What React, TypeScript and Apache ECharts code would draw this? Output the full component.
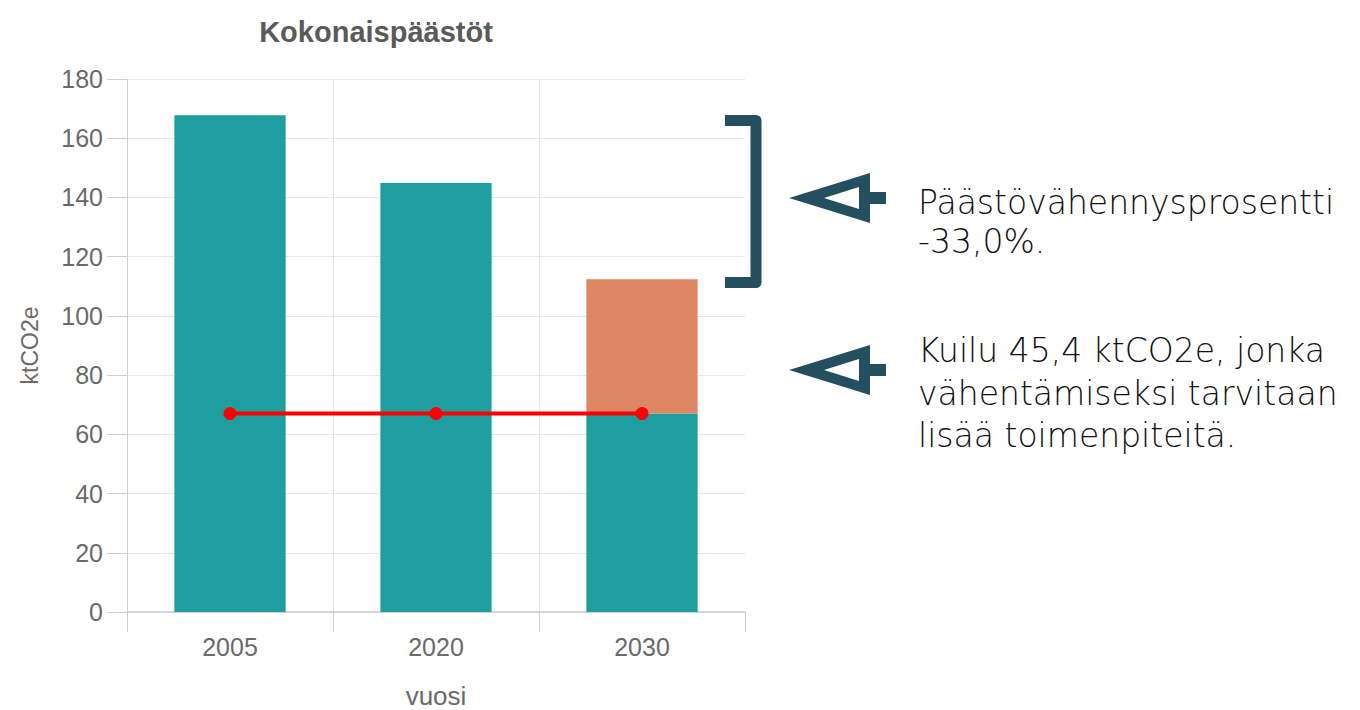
import React, { useEffect, useRef } from "react";
import * as echarts from "echarts";

const categories = ["2005", "2020", "2030"];
const baseValues = [167.8, 144.9, 67.0];
const gapValues = [0, 0, 45.4];
const targetValues = [67.0, 67.0, 67.0];
const yTicks = { min: 0, max: 180, interval: 20 };

const note1Lines = ["Päästövähennysprosentti", "-33,0%."];
const note2Lines = ["Kuilu 45,4 ktCO2e, jonka", "vähentämiseksi tarvitaan", "lisää toimenpiteitä."];

const TEAL = "#1f9e9f";
const ORANGE = "#de8664";
const DARK = "#234f5e";

export default function App() {
  const ref = useRef<HTMLDivElement>(null);
  useEffect(() => {
    const chart = echarts.init(ref.current!, null, { renderer: "svg" });
    const arrow = (cy: number) => [
      {
        type: "polygon",
        shape: { points: [[789, cy], [870, cy - 25], [870, cy + 25]] },
        style: { fill: DARK },
      },
      {
        type: "polygon",
        shape: { points: [[824, cy], [859, cy - 11], [859, cy + 11]] },
        style: { fill: "#fff" },
      },
      {
        type: "rect",
        shape: { x: 866, y: cy - 6, width: 20, height: 12 },
        style: { fill: DARK },
      },
    ];
    const noteLines = (lines: string[], baseline: number, step: number) =>
      lines.map((t, i) => ({
        type: "text",
        x: 918,
        y: baseline + i * step,
        style: {
          text: t,
          fontSize: 33,
          fill: "#111",
          fontFamily: "DejaVu Sans",
          fontWeight: 200,
          verticalAlign: "bottom",
        },
      }));
    chart.setOption({
      animation: false,
      backgroundColor: "#fff",
      textStyle: { fontFamily: "Liberation Sans, Arial, sans-serif" },
      title: {
        text: "Kokonaispäästöt",
        left: 371,
        textAlign: "center",
        top: 12,
        textStyle: { fontSize: 29, fontWeight: "bold", color: "#5a5a5a", fontFamily: "Liberation Sans, Arial, sans-serif" },
      },
      grid: { left: 127, right: 615, top: 79, bottom: 98, outerBoundsMode: "none", containLabel: false },
      xAxis: {
        type: "category",
        data: categories,
        name: "vuosi",
        nameLocation: "middle",
        nameGap: 71,
        nameTextStyle: { fontSize: 26, color: "#6a6a6a" },
        axisLine: { lineStyle: { color: "#ccc", width: 1.5 } },
        axisTick: { show: true, length: 20, lineStyle: { color: "#d0d0d0" } },
        axisLabel: { fontSize: 25, color: "#6a6a6a", margin: 22 },
        splitLine: { show: true, showMinLine: false, showMaxLine: false, lineStyle: { color: "#e6e6e6" } },
      },
      yAxis: {
        type: "value",
        min: yTicks.min,
        max: yTicks.max,
        interval: yTicks.interval,
        name: "ktCO2e",
        nameLocation: "middle",
        nameGap: 86,
        nameRotate: 90,
        nameTextStyle: { fontSize: 23, color: "#6a6a6a" },
        axisLine: { show: true, lineStyle: { color: "#d0d0d0" } },
        axisTick: { show: true, length: 20, lineStyle: { color: "#d0d0d0" } },
        axisLabel: { fontSize: 25, color: "#6a6a6a", margin: 24 },
        splitLine: { show: true, lineStyle: { color: "#e6e6e6" } },
      },
      series: [
        {
          type: "bar",
          stack: "total",
          data: baseValues,
          barWidth: "54%",
          itemStyle: { color: TEAL },
        },
        {
          type: "bar",
          stack: "total",
          data: gapValues,
          barWidth: "54%",
          itemStyle: { color: ORANGE },
        },
        {
          type: "line",
          data: targetValues,
          symbol: "circle",
          symbolSize: 13,
          lineStyle: { color: "#ff0000", width: 4 },
          itemStyle: { color: "#ff0000" },
          z: 10,
        },
      ],
      graphic: [
        {
          type: "polyline",
          shape: { points: [[725, 120.5], [756, 120.5], [756, 282.5], [725, 282.5]] },
          style: { stroke: DARK, lineWidth: 11, fill: "none", lineJoin: "round", lineCap: "butt" },
        },
        ...arrow(198),
        ...arrow(370),
        ...noteLines(note1Lines, 219, 39),
        ...noteLines(note2Lines, 367, 42.5),
      ],
    });
    return () => chart.dispose();
  }, []);
  return <div ref={ref} style={{ width: 1360, height: 710, position: "absolute", left: 0, top: 0 }} />;
}
